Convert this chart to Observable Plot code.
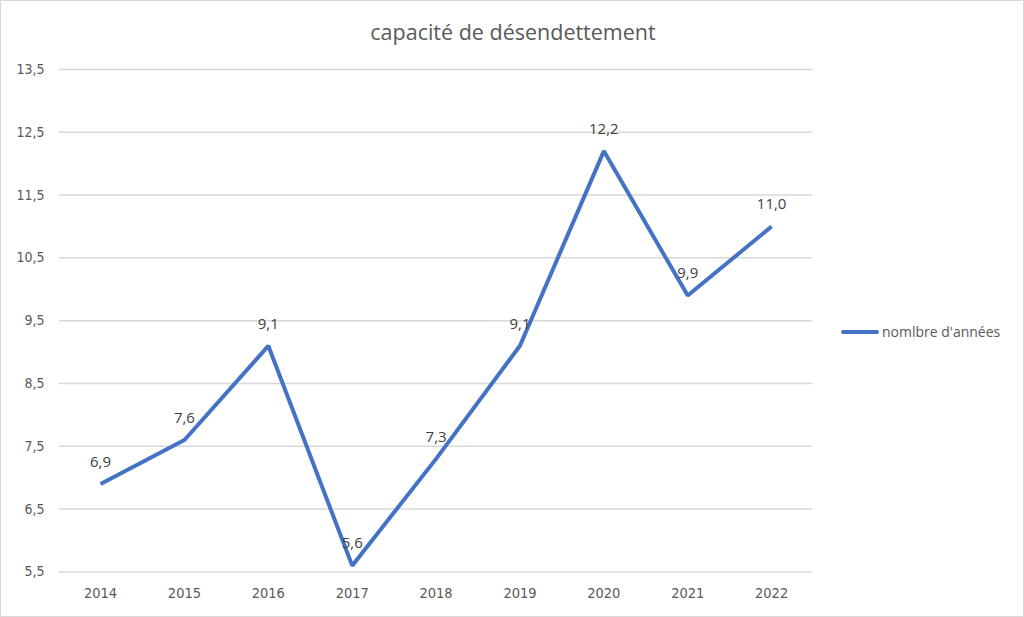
<!DOCTYPE html>
<html><head><meta charset="utf-8">
<script src="https://cdn.jsdelivr.net/npm/d3@7"></script>
<script src="https://cdn.jsdelivr.net/npm/@observablehq/plot@0.6"></script>
<style>
html,body{margin:0;padding:0;background:#fff;}
#wrap{position:relative;width:1024px;height:617px;box-sizing:border-box;border:1px solid #d9d9d9;overflow:hidden;}
#title{position:absolute;left:0;width:1024px;top:16px;text-align:center;font-family:"Open Sans",sans-serif;font-size:21.5px;color:#595959;}
#legend{position:absolute;left:840px;top:321px;font-family:"Open Sans",sans-serif;font-size:14px;color:#595959;display:flex;align-items:center;}
#legend span.sw{display:inline-block;width:38px;height:4px;background:#4472C4;border-radius:2px;margin-right:3px;}
#chart{position:absolute;left:-1px;top:-1px;}
</style></head>
<body>
<div id="wrap">
<div id="chart"></div>
<div id="title">capacité de désendettement</div>
<div id="legend"><span class="sw"></span>nomlbre d'années</div>
</div>
<script>
const years = ["2014","2015","2016","2017","2018","2019","2020","2021","2022"];
const values = [6.9, 7.6, 9.1, 5.6, 7.3, 9.1, 12.2, 9.9, 11.0];
const yTicks = [5.5, 6.5, 7.5, 8.5, 9.5, 10.5, 11.5, 12.5, 13.5];

const data = years.map((y, i) => ({year: y, value: values[i]}));
const fmt = v => v.toFixed(1).replace(".", ",");

const chart = Plot.plot({
  width: 1024,
  height: 617,
  marginTop: 69,
  marginBottom: 45,
  marginLeft: 59,
  marginRight: 211,
  style: {fontFamily: "'Liberation Sans Narrow','DejaVu Sans Condensed',sans-serif", fontSize: "14px", color: "#595959", background: "transparent"},
  x: {type: "point", domain: years, padding: 0.49, round: false, label: null},
  y: {domain: [5.5, 13.5], ticks: yTicks, label: null, tickFormat: fmt},
  marks: [
    Plot.gridY(yTicks, {stroke: "#d9d9d9", strokeOpacity: 1, strokeWidth: 1.5}),
    Plot.axisY(yTicks, {tickSize: 0, tickPadding: 15, tickFormat: fmt, fill: "#595959", fontSize: 14}),
    Plot.axisX({tickSize: 0, tickPadding: 16, fill: "#595959", fontSize: 14.5}),
    Plot.line(data, {x: "year", y: "value", stroke: "#4472C4", strokeWidth: 4, strokeLinejoin: "miter", strokeLinecap: "butt"}),
    Plot.text(data, {x: "year", y: "value", text: d => fmt(d.value), dy: -22, fill: "#404040", fontSize: 15, fontFamily: "'Open Sans',sans-serif"})
  ]
});
document.getElementById("chart").appendChild(chart);
</script>
</body></html>
